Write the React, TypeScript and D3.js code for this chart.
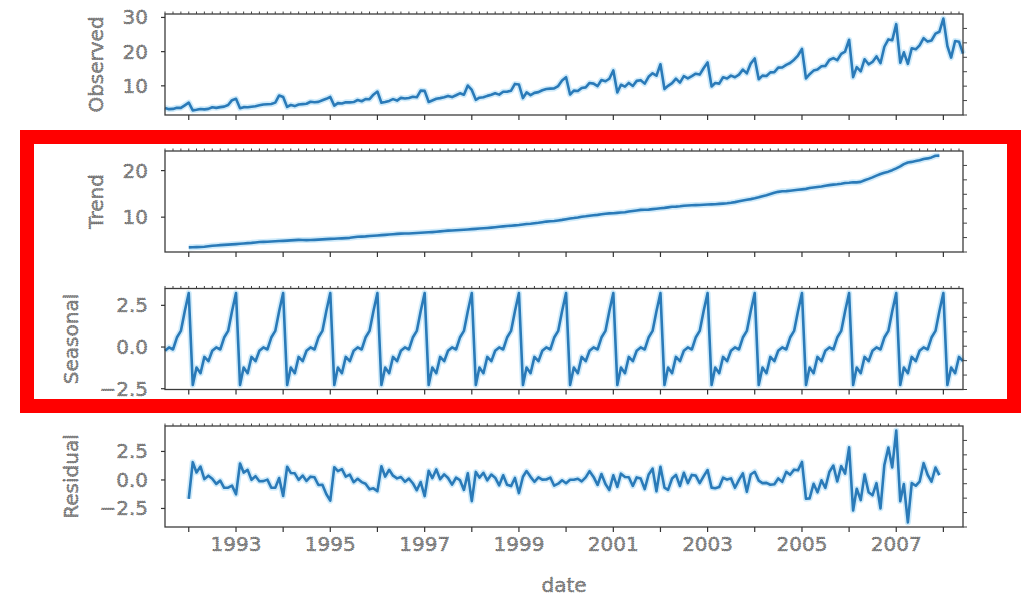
import React from "react";
import * as d3 from "d3";

// monthly series, Jul 1991 .. Jun 2008
const observed = [
  3.527, 3.181, 3.252, 3.611, 3.566, 4.306,
  5.088, 2.815, 2.986, 3.205, 3.128, 3.271, 3.738, 3.559, 3.777, 3.924, 4.387, 5.811,
  6.192, 3.451, 3.772, 3.734, 3.905, 4.05, 4.316, 4.562, 4.609, 4.668, 5.094, 7.18,
  6.732, 3.841, 4.394, 4.075, 4.541, 4.646, 4.753, 5.351, 5.204, 5.302, 5.774, 6.205,
  6.749, 4.216, 4.949, 4.823, 5.195, 5.171, 5.257, 5.855, 5.491, 6.115, 6.088, 7.417,
  8.329, 5.07, 5.263, 5.597, 6.11, 5.689, 6.487, 6.301, 6.467, 6.829, 6.649, 8.607,
  8.524, 5.278, 5.714, 6.215, 6.412, 6.668, 7.051, 6.705, 7.251, 7.82, 7.398, 10.096,
  8.799, 5.918, 6.534, 6.676, 7.064, 7.383, 7.814, 7.432, 8.275, 8.26, 8.596, 10.559,
  10.391, 6.422, 8.063, 7.298, 7.937, 8.165, 8.717, 9.071, 9.177, 9.252, 9.933, 11.533,
  12.511, 7.457, 8.591, 8.474, 9.387, 9.56, 10.834, 10.644, 9.908, 11.71, 11.34, 12.079,
  14.498, 8.049, 10.313, 9.753, 10.85, 9.962, 11.444, 11.659, 10.647, 12.652, 13.674, 12.966,
  16.3, 9.053, 10.002, 10.789, 12.107, 10.954, 12.845, 12.197, 12.855, 13.542, 13.288, 15.135,
  16.828, 9.8, 10.817, 10.654, 12.512, 12.161, 12.998, 12.517, 13.269, 14.734, 13.669, 16.504,
  18.004, 11.938, 12.998, 12.883, 13.943, 13.99, 15.339, 15.371, 16.142, 16.686, 17.637, 18.869,
  20.779, 12.155, 13.402, 14.459, 14.795, 15.705, 15.83, 17.555, 18.101, 17.497, 19.347, 20.031,
  23.487, 12.537, 15.467, 14.234, 17.783, 16.292, 16.98, 18.612, 16.623, 21.43, 23.576, 23.334,
  28.038, 16.764, 19.793, 16.427, 21.001, 20.681, 21.835, 23.93, 22.93, 23.263, 25.25, 25.806,
  29.665, 21.654, 18.265, 23.108, 22.913, 19.432,
];

const trend = [
  null, null, null, null, null, null,
  3.503, 3.528, 3.566, 3.601, 3.648, 3.745, 3.853, 3.926, 3.985, 4.04, 4.094, 4.159,
  4.216, 4.282, 4.358, 4.424, 4.484, 4.571, 4.65, 4.689, 4.731, 4.771, 4.812, 4.863,
  4.906, 4.957, 5.015, 5.066, 5.121, 5.109, 5.069, 5.085, 5.124, 5.178, 5.237, 5.286,
  5.329, 5.371, 5.404, 5.45, 5.497, 5.56, 5.677, 5.778, 5.827, 5.872, 5.942, 6.002,
  6.075, 6.145, 6.204, 6.274, 6.327, 6.4, 6.458, 6.475, 6.502, 6.547, 6.585, 6.639,
  6.703, 6.743, 6.793, 6.867, 6.939, 7.032, 7.106, 7.144, 7.205, 7.258, 7.305, 7.362,
  7.423, 7.485, 7.558, 7.619, 7.688, 7.757, 7.842, 7.93, 8.014, 8.104, 8.166, 8.235,
  8.306, 8.411, 8.517, 8.596, 8.693, 8.79, 8.918, 9.05, 9.115, 9.186, 9.296, 9.414,
  9.561, 9.714, 9.81, 9.943, 10.104, 10.186, 10.291, 10.398, 10.495, 10.62, 10.734, 10.812,
  10.854, 10.922, 10.995, 11.065, 11.201, 11.336, 11.448, 11.565, 11.594, 11.624, 11.719, 11.813,
  11.913, 11.993, 12.108, 12.237, 12.258, 12.332, 12.445, 12.498, 12.563, 12.591, 12.602, 12.67,
  12.726, 12.746, 12.777, 12.843, 12.909, 12.982, 13.088, 13.226, 13.406, 13.59, 13.742, 13.878,
  14.052, 14.268, 14.507, 14.708, 14.955, 15.218, 15.433, 15.557, 15.583, 15.666, 15.767, 15.874,
  15.966, 16.077, 16.25, 16.365, 16.47, 16.59, 16.751, 16.88, 16.982, 17.059, 17.174, 17.323,
  17.395, 17.487, 17.469, 17.572, 17.912, 18.226, 18.553, 18.919, 19.275, 19.547, 19.772, 20.089,
  20.474, 20.898, 21.383, 21.722, 21.868, 22.041, 22.211, 22.483, 22.623, 22.838, 23.196, 23.223,
  null, null, null, null, null, null,
];

const seasonal = [
  -0.228, -0.023, -0.149, 0.569, 0.967, 2.15, 3.235, -2.272, -1.234, -1.572, -0.593, -0.851,
  -0.228, -0.023, -0.149, 0.569, 0.967, 2.15, 3.235, -2.272, -1.234, -1.572, -0.593, -0.851,
  -0.228, -0.023, -0.149, 0.569, 0.967, 2.15, 3.235, -2.272, -1.234, -1.572, -0.593, -0.851,
  -0.228, -0.023, -0.149, 0.569, 0.967, 2.15, 3.235, -2.272, -1.234, -1.572, -0.593, -0.851,
  -0.228, -0.023, -0.149, 0.569, 0.967, 2.15, 3.235, -2.272, -1.234, -1.572, -0.593, -0.851,
  -0.228, -0.023, -0.149, 0.569, 0.967, 2.15, 3.235, -2.272, -1.234, -1.572, -0.593, -0.851,
  -0.228, -0.023, -0.149, 0.569, 0.967, 2.15, 3.235, -2.272, -1.234, -1.572, -0.593, -0.851,
  -0.228, -0.023, -0.149, 0.569, 0.967, 2.15, 3.235, -2.272, -1.234, -1.572, -0.593, -0.851,
  -0.228, -0.023, -0.149, 0.569, 0.967, 2.15, 3.235, -2.272, -1.234, -1.572, -0.593, -0.851,
  -0.228, -0.023, -0.149, 0.569, 0.967, 2.15, 3.235, -2.272, -1.234, -1.572, -0.593, -0.851,
  -0.228, -0.023, -0.149, 0.569, 0.967, 2.15, 3.235, -2.272, -1.234, -1.572, -0.593, -0.851,
  -0.228, -0.023, -0.149, 0.569, 0.967, 2.15, 3.235, -2.272, -1.234, -1.572, -0.593, -0.851,
  -0.228, -0.023, -0.149, 0.569, 0.967, 2.15, 3.235, -2.272, -1.234, -1.572, -0.593, -0.851,
  -0.228, -0.023, -0.149, 0.569, 0.967, 2.15, 3.235, -2.272, -1.234, -1.572, -0.593, -0.851,
  -0.228, -0.023, -0.149, 0.569, 0.967, 2.15, 3.235, -2.272, -1.234, -1.572, -0.593, -0.851,
  -0.228, -0.023, -0.149, 0.569, 0.967, 2.15, 3.235, -2.272, -1.234, -1.572, -0.593, -0.851,
  -0.228, -0.023, -0.149, 0.569, 0.967, 2.15, 3.235, -2.272, -1.234, -1.572, -0.593, -0.851,
];

const resid = [
  null, null, null, null, null, null,
  -1.65, 1.559, 0.654, 1.176, 0.073, 0.377, 0.112, -0.344, -0.059, -0.685, -0.675, -0.499,
  -1.259, 1.441, 0.648, 0.882, 0.014, 0.33, -0.107, -0.104, 0.027, -0.673, -0.685, 0.167,
  -1.41, 1.156, 0.613, 0.581, 0.013, 0.388, -0.088, 0.289, 0.23, -0.446, -0.43, -1.231,
  -1.814, 1.117, 0.779, 0.945, 0.292, 0.462, -0.192, 0.101, -0.187, -0.326, -0.821, -0.736,
  -0.981, 1.197, 0.293, 0.894, 0.376, 0.14, 0.257, -0.151, 0.114, -0.287, -0.903, -0.182,
  -1.414, 0.807, 0.155, 0.919, 0.066, 0.486, 0.173, -0.416, 0.195, -0.008, -0.873, 0.584,
  -1.86, 0.705, 0.21, 0.628, -0.03, 0.478, 0.199, -0.475, 0.41, -0.413, -0.537, 0.174,
  -1.149, 0.282, 0.779, 0.273, -0.163, 0.227, 0.027, 0.044, 0.211, -0.503, -0.329, -0.031,
  -0.284, 0.015, 0.015, 0.102, -0.124, 0.226, 0.771, 0.269, -0.438, 0.521, -0.361, -0.883,
  0.408, -0.6, 0.552, 0.26, 0.242, -0.523, 0.224, 0.118, -0.797, 0.459, 0.989, -0.997,
  1.153, -0.668, -0.872, 0.124, 0.442, -0.527, 0.628, -0.278, 0.441, 0.382, -0.282, 0.315,
  0.867, -0.674, -0.726, -0.618, 0.197, 0.03, 0.138, -0.686, 0.012, 0.575, -1.04, 0.476,
  0.717, -0.058, -0.275, -0.254, -0.418, -0.378, 0.134, -0.163, 0.708, 0.451, 0.903, 0.845,
  1.578, -1.651, -1.614, -0.334, -1.082, -0.034, -0.694, 0.698, 1.268, -0.131, 1.207, 0.559,
  2.857, -2.678, -0.769, -1.767, 0.465, -1.083, -1.345, -0.283, -2.503, 1.314, 2.837, 1.095,
  4.329, -1.862, -0.356, -3.723, -0.274, -0.509, -0.149, 1.47, 0.456, -0.144, 1.087, 0.432,
  null, null, null, null, null, null,
];

const yTicks = {
  Observed: [10, 20, 30],
  Trend: [10, 20],
  Seasonal: [-2.5, 0, 2.5],
  Residual: [-2.5, 0, 2.5],
};
const labelYears = [1993, 1995, 1997, 1999, 2001, 2003, 2005, 2007];

const W = 1033;
const H = 596;
const left = 165;
const right = 963;
const panelH = 101;
const lineColor = "#2a7ab8";

const dates = observed.map((_, i) => new Date(1991, 6 + i, 1));

const x = d3
  .scaleTime()
  .domain([dates[0], dates[dates.length - 1]])
  .range([left, right]);

const textStyle = {
  fontFamily: "DejaVu Sans",
  fontSize: 20,
  fill: "#8a8a8a",
  stroke: "#3a3a3a",
  strokeWidth: 0.6,
  strokeDasharray: "1 1.2",
};

function Panel({ name, values, top, labelX, fmt, bottom }) {
  const ext = d3.extent(values.filter((v) => v != null));
  const pad = (ext[1] - ext[0]) * 0.05;
  const y = d3
    .scaleLinear()
    .domain([ext[0] - pad, ext[1] + pad])
    .range([top + panelH, top]);

  const line = d3
    .line()
    .defined((d) => d != null)
    .x((d, i) => x(dates[i]))
    .y((d) => y(d));
  const path = line(values);

  const years = d3.timeYear.range(new Date(1992, 0, 1), new Date(2009, 0, 1)).filter((d) => d <= x.domain()[1]);
  const months = d3.timeMonth.every(2).range(x.domain()[0], x.domain()[1]);
  const rightTicks = d3.range(1, 8).map((k) => top + (k * panelH) / 7);

  return (
    <g>
      <rect x={left} y={top} width={right - left} height={panelH} fill="#fff" />
      <path d={path} fill="none" stroke="#a9daf6" strokeWidth={6} strokeOpacity={0.55} strokeLinejoin="round" />
      <path d={path} fill="none" stroke={lineColor} strokeWidth={2.6} strokeLinejoin="round" />
      <rect x={left} y={top} width={right - left} height={panelH} fill="none" stroke="#3c3c3c" strokeWidth={1.3} />
      {months.map((m, i) => (
        <line key={"tm" + i} x1={x(m)} x2={x(m)} y1={top} y2={top - 2.5} stroke="#444" strokeWidth={1} />
      ))}
      {years.map((d, i) => (
        <line key={"yt" + i} x1={x(d)} x2={x(d)} y1={top + panelH} y2={top + panelH + 5} stroke="#333" strokeWidth={1.2} />
      ))}
      {rightTicks.map((ty, i) => (
        <line key={"rt" + i} x1={right} x2={right + 4} y1={ty} y2={ty} stroke="#444" strokeWidth={1} />
      ))}
      {yTicks[name].map((t) => (
        <g key={t}>
          <line x1={left - 4} x2={left} y1={y(t)} y2={y(t)} stroke="#333" strokeWidth={1.2} />
          <text x={148} y={y(t)} dy="0.35em" textAnchor="end" style={textStyle}>
            {fmt(t)}
          </text>
        </g>
      ))}
      <text
        transform={`translate(${labelX},${top + panelH / 2}) rotate(-90)`}
        dy="0.35em"
        textAnchor="middle"
        style={textStyle}
      >
        {name}
      </text>
      {bottom &&
        labelYears.map((yr) => (
          <text key={yr} x={x(new Date(yr, 0, 1))} y={544} dy="0.35em" textAnchor="middle" style={textStyle}>
            {yr}
          </text>
        ))}
    </g>
  );
}

export default function App() {
  const intFmt = d3.format("d");
  const decFmt = d3.format(".1f");
  return (
    <svg width={W} height={H} style={{ position: "absolute", left: 0, top: 0, background: "#fff" }}>
      <Panel name="Observed" values={observed} top={14} labelX={96} fmt={intFmt} />
      <Panel name="Trend" values={trend} top={151} labelX={96} fmt={intFmt} />
      <Panel name="Seasonal" values={seasonal} top={288.5} labelX={71} fmt={decFmt} />
      <Panel name="Residual" values={resid} top={426} labelX={71} fmt={decFmt} bottom />
      <text x={(left + right) / 2} y={585} dy="0.35em" textAnchor="middle" style={textStyle}>
        date
      </text>
      <rect x={27} y={137} width={987} height={269} fill="none" stroke="#ff0000" strokeWidth={14} />
    </svg>
  );
}
